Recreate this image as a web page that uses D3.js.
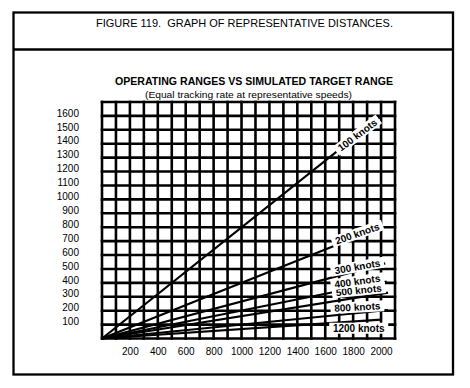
<!DOCTYPE html>
<html>
<head>
<meta charset="utf-8">
<script src="https://cdn.jsdelivr.net/npm/d3@7"></script>
<style>
  html, body { margin: 0; padding: 0; background: #fff; }
  svg { display: block; }
  text { white-space: pre; }
</style>
</head>
<body>
<svg id="chart" width="470" height="388"></svg>
<script>
// ---------------- data ----------------
const figureTitle = "FIGURE 119.  GRAPH OF REPRESENTATIVE DISTANCES.";
const chartTitle = "OPERATING RANGES VS SIMULATED TARGET RANGE";
const chartSubtitle = "(Equal tracking rate at representative speeds)";
const seriesNames = ["100 knots", "200 knots", "300 knots", "400 knots", "500 knots", "800 knots", "1200 knots"];
// each line runs from (0,0) to (endTarget, endOperating)
const endTarget    = [1990, 2000, 2030, 2040, 2050, 2050, 2000];
const endOperating = [1590,  800,  540,  410,  330,  205,  135];
const xTickLabels = [200, 400, 600, 800, 1000, 1200, 1400, 1600, 1800, 2000];
const yTickLabels = [100, 200, 300, 400, 500, 600, 700, 800, 900, 1000, 1100, 1200, 1300, 1400, 1500, 1600];
const xMax = 2100, yMax = 1700, gridStep = 100;

// ---------------- layout ----------------
const svg = d3.select("#chart");
const plot = { left: 102, right: 395, top: 102, bottom: 338.5 };
const x = d3.scaleLinear().domain([0, xMax]).range([plot.left, plot.right]);
const y = d3.scaleLinear().domain([0, yMax]).range([plot.bottom, plot.top]);

// label placement along each line: [target x position, dy px, angle deg]
const labelPlace = [
  [1830, 0, -37],
  [1830, -3, -19],
  [1830, -4, -10],
  [1830, -6, -8],
  [1840, -7, -6],
  [1830, -6, -3],
  [1840, 7, 0]
];

// outer frame
svg.append("rect").attr("x", 13.5).attr("y", 12.5).attr("width", 439.5).attr("height", 362)
  .attr("fill", "none").attr("stroke", "#000").attr("stroke-width", 2.3);
svg.append("line").attr("x1", 13.5).attr("x2", 453).attr("y1", 49.5).attr("y2", 49.5)
  .attr("stroke", "#000").attr("stroke-width", 2.3);

svg.append("text").attr("x", 244.5).attr("y", 27)
  .attr("text-anchor", "middle")
  .attr("font-family", "Liberation Sans, Arial, sans-serif").attr("font-size", 11)
  .attr("textLength", 297).attr("lengthAdjust", "spacingAndGlyphs")
  .text(figureTitle);

svg.append("text").attr("x", 254).attr("y", 85)
  .attr("text-anchor", "middle")
  .attr("font-family", "Liberation Sans, Arial, sans-serif").attr("font-size", 10).attr("font-weight", "bold")
  .attr("textLength", 278).attr("lengthAdjust", "spacingAndGlyphs")
  .text(chartTitle);

svg.append("text").attr("x", 248.5).attr("y", 98)
  .attr("text-anchor", "middle")
  .attr("font-family", "Liberation Sans, Arial, sans-serif").attr("font-size", 9)
  .attr("textLength", 207).attr("lengthAdjust", "spacingAndGlyphs")
  .text(chartSubtitle);

// grid
const grid = svg.append("g").attr("stroke", "#000").attr("stroke-width", 2.6);
grid.selectAll("line.v").data(d3.range(0, xMax + 1, gridStep)).join("line")
  .attr("class", "v")
  .attr("x1", d => x(d)).attr("x2", d => x(d))
  .attr("y1", plot.top - 1.3).attr("y2", plot.bottom + 1.3);
grid.selectAll("line.h").data(d3.range(0, yMax + 1, gridStep)).join("line")
  .attr("class", "h")
  .attr("y1", d => y(d)).attr("y2", d => y(d))
  .attr("x1", plot.left - 1.3).attr("x2", plot.right + 1.3);

// axes (labels only)
const xAxis = d3.axisBottom(x).tickValues(xTickLabels).tickSize(0).tickPadding(0).tickFormat(d3.format("d"));
const gx = svg.append("g").attr("transform", `translate(0, 348)`).call(xAxis);
gx.select(".domain").remove();
gx.selectAll("text").attr("font-family", "Liberation Sans, Arial, sans-serif").attr("font-size", 10).attr("fill", "#000");

const yAxis = d3.axisLeft(y).tickValues(yTickLabels).tickSize(0).tickPadding(0).tickFormat(d3.format("d"));
const gy = svg.append("g").attr("transform", `translate(79, -3)`).call(yAxis);
gy.select(".domain").remove();
gy.selectAll("text").attr("font-family", "Liberation Sans, Arial, sans-serif").attr("font-size", 10).attr("fill", "#000");

// lines
const series = seriesNames.map((name, i) => ({ name, pts: [[0, 0], [endTarget[i], endOperating[i]]], i }));
const lineGen = d3.line().x(d => x(d[0])).y(d => y(d[1]));
svg.append("g").selectAll("path").data(series).join("path")
  .attr("d", d => lineGen(d.pts))
  .attr("fill", "none").attr("stroke", "#000").attr("stroke-width", 2.2);

// labels (drawn bottom-up so upper labels sit on top)
const lab = svg.append("g").selectAll("g").data(series.slice().reverse()).join("g")
  .attr("transform", d => {
    const p = labelPlace[d.i];
    const tx = p[0];
    const ty = endOperating[d.i] / endTarget[d.i] * tx;
    return `translate(${x(tx)},${y(ty) + p[1]}) rotate(${p[2]})`;
  });
lab.append("rect")
  .attr("x", d => -(d.name.length * 5.3 + 6) / 2).attr("y", -5.5)
  .attr("width", d => d.name.length * 5.3 + 6).attr("height", 11)
  .attr("fill", "#fff");
lab.append("text")
  .attr("text-anchor", "middle").attr("dy", "0.35em")
  .attr("font-family", "Liberation Sans, Arial, sans-serif").attr("font-size", 10).attr("font-weight", "bold")
  .text(d => d.name);
</script>
</body>
</html>
